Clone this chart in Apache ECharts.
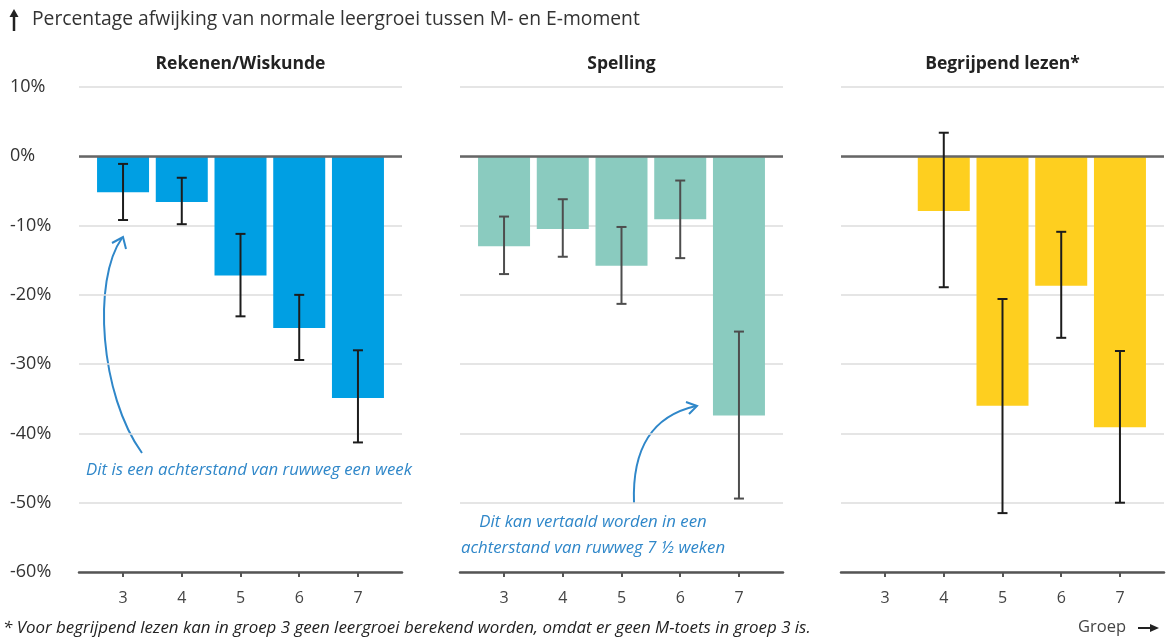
<!DOCTYPE html>
<html>
<head>
<meta charset="utf-8">
<script src="https://cdn.jsdelivr.net/npm/echarts@6/dist/echarts.min.js"></script>
<style>
  html, body { margin: 0; padding: 0; background: #fff; }
  #chart { width: 1166px; height: 639px; }
</style>
</head>
<body>
<div id="chart"></div>
<script>
// Groep 3 t/m 7, afwijking in procenten (balk) met foutmarge (laag/hoog)
const groups = [3, 4, 5, 6, 7];
const yTicks = [10, 0, -10, -20, -30, -40, -50, -60];

const panelTitles = ['Rekenen/Wiskunde', 'Spelling', 'Begrijpend lezen*'];

const rekenen = [-5.2, -6.6, -17.2, -24.8, -34.9];
const rekenenLow = [-9.2, -9.8, -23.1, -29.4, -41.3];
const rekenenHigh = [-1.1, -3.1, -11.2, -20.0, -28.0];

const spelling = [-13.0, -10.5, -15.8, -9.1, -37.4];
const spellingLow = [-17.0, -14.5, -21.3, -14.7, -49.4];
const spellingHigh = [-8.7, -6.2, -10.2, -3.5, -25.3];

// geen waarde voor groep 3
const lezen = [null, -7.9, -36.0, -18.7, -39.1];
const lezenLow = [null, -18.9, -51.5, -26.2, -50.0];
const lezenHigh = [null, 3.4, -20.6, -10.9, -28.1];

const FONT = '"Open Sans", "Noto Sans", sans-serif';
const barColors = ['#009fe3', '#8acbbf', '#fecf1f'];
const errColors = ['#1c1c1c', '#4d4d4d', '#1c1c1c'];
const noteColor = '#2f87c9';

const chart = echarts.init(document.getElementById('chart'));

const gridLefts = [79, 460, 841];
const grids = gridLefts.map(l => ({ left: l, width: 323, top: 87, height: 485 }));

const xAxes = grids.map((g, i) => ({
  type: 'value',
  gridIndex: i,
  min: 2.25,
  max: 7.75,
  splitLine: { show: false },
  axisLine: { onZero: false, lineStyle: { color: '#555', width: 2.5 } },
  axisTick: { customValues: groups, length: 5, lineStyle: { color: '#555', width: 2 } },
  axisLabel: {
    customValues: groups,
    margin: 18,
    color: '#444',
    fontSize: 16,
    fontFamily: FONT
  }
}));

const yAxes = grids.map((g, i) => ({
  type: 'value',
  gridIndex: i,
  min: yTicks[yTicks.length - 1],
  max: yTicks[0],
  interval: 10,
  axisLine: { show: false },
  axisTick: { show: false },
  splitLine: { lineStyle: { color: '#dcdcdc', width: 1.5 } },
  axisLabel: {
    show: i === 0,
    align: 'left',
    margin: 69,
    color: '#333',
    fontSize: 18,
    fontFamily: FONT,
    formatter: v => v + '%'
  }
}));

function pairs(vals) {
  return groups.map((g, k) => [g, vals[k]]).filter(d => d[1] != null);
}
function triples(low, high) {
  return groups.map((g, k) => [g, low[k], high[k]]).filter(d => d[1] != null);
}

function errorRender(color) {
  return function (params, api) {
    const x = api.value(0);
    const lo = api.coord([x, api.value(1)]);
    const hi = api.coord([x, api.value(2)]);
    const cap = 5;
    const st = { stroke: color, lineWidth: 2 };
    return {
      type: 'group',
      children: [
        { type: 'line', shape: { x1: lo[0], y1: lo[1], x2: hi[0], y2: hi[1] }, style: st },
        { type: 'line', shape: { x1: lo[0] - cap, y1: lo[1], x2: lo[0] + cap, y2: lo[1] }, style: st },
        { type: 'line', shape: { x1: hi[0] - cap, y1: hi[1], x2: hi[0] + cap, y2: hi[1] }, style: st }
      ]
    };
  };
}

const barSets = [
  [rekenen, rekenenLow, rekenenHigh],
  [spelling, spellingLow, spellingHigh],
  [lezen, lezenLow, lezenHigh]
];

const series = [];
barSets.forEach(([vals, low, high], i) => {
  series.push({
    type: 'bar',
    xAxisIndex: i,
    yAxisIndex: i,
    barWidth: 52,
    data: pairs(vals),
    itemStyle: { color: barColors[i] },
    silent: true,
    markLine: {
      silent: true,
      symbol: 'none',
      label: { show: false },
      lineStyle: { color: '#666', width: 2.5, type: 'solid' },
      data: [{ yAxis: 0 }],
      z: 5
    }
  });
  series.push({
    type: 'custom',
    xAxisIndex: i,
    yAxisIndex: i,
    renderItem: errorRender(errColors[i]),
    data: triples(low, high),
    z: 10,
    silent: true
  });
});

const titleGraphics = panelTitles.map((t, i) => ({
  type: 'text',
  x: gridLefts[i] + 161.5,
  y: 64,
  style: {
    text: t,
    font: 'bold 17.5px ' + FONT,
    fill: '#222',
    textAlign: 'center',
    textVerticalAlign: 'middle'
  }
}));

const noteFont = 'italic 16.8px ' + FONT;

const option = {
  animation: false,
  grid: grids,
  xAxis: xAxes,
  yAxis: yAxes,
  series: series,
  graphic: [
    // pijl omhoog + as-titel
    { type: 'line', shape: { x1: 14, y1: 14, x2: 14, y2: 31 }, style: { stroke: '#222', lineWidth: 2.5 } },
    { type: 'polygon', shape: { points: [[9.5, 17], [14, 9], [18.5, 17]] }, style: { fill: '#222' } },
    {
      type: 'text', x: 32, y: 20,
      style: {
        text: 'Percentage afwijking van normale leergroei tussen M- en E-moment',
        font: '19.3px ' + FONT, fill: '#333', textVerticalAlign: 'middle'
      }
    },
    ...titleGraphics,
    // annotatie rekenen
    {
      type: 'bezierCurve',
      shape: { x1: 142, y1: 453, cpx1: 100, cpy1: 395, cpx2: 92, cpy2: 280, x2: 122, y2: 238 },
      style: { stroke: noteColor, lineWidth: 2, fill: null }
    },
    {
      type: 'polyline',
      shape: { points: [[112, 243], [123, 237], [126, 249]] },
      style: { stroke: noteColor, lineWidth: 2, fill: null }
    },
    {
      type: 'text', x: 249, y: 470,
      style: {
        text: 'Dit is een achterstand van ruwweg een week',
        font: noteFont, fill: noteColor,
        textAlign: 'center', textVerticalAlign: 'middle'
      }
    },
    // annotatie spelling
    {
      type: 'bezierCurve',
      shape: { x1: 634, y1: 503, cpx1: 632, cpy1: 448, cpx2: 652, cpy2: 416, x2: 696, y2: 406 },
      style: { stroke: noteColor, lineWidth: 2, fill: null }
    },
    {
      type: 'polyline',
      shape: { points: [[686, 402], [697, 406], [689, 414]] },
      style: { stroke: noteColor, lineWidth: 2, fill: null }
    },
    {
      type: 'text', x: 593, y: 522,
      style: {
        text: 'Dit kan vertaald worden in een',
        font: noteFont, fill: noteColor,
        textAlign: 'center', textVerticalAlign: 'middle'
      }
    },
    {
      type: 'text', x: 593, y: 548,
      style: {
        text: 'achterstand van ruwweg 7 \u00bd weken',
        font: noteFont, fill: noteColor,
        textAlign: 'center', textVerticalAlign: 'middle'
      }
    },
    // voetnoot
    {
      type: 'text', x: 3, y: 628,
      style: {
        text: '* Voor begrijpend lezen kan in groep 3 geen leergroei berekend worden, omdat er geen M-toets in groep 3 is.',
        font: 'italic 16.9px ' + FONT, fill: '#222', textVerticalAlign: 'middle'
      }
    },
    // x-as titel
    {
      type: 'text', x: 1126, y: 627,
      style: {
        text: 'Groep', font: '16.5px ' + FONT, fill: '#444',
        textAlign: 'right', textVerticalAlign: 'middle'
      }
    },
    { type: 'line', shape: { x1: 1138, y1: 628, x2: 1152, y2: 628 }, style: { stroke: '#222', lineWidth: 2 } },
    { type: 'polygon', shape: { points: [[1150, 624], [1159, 628], [1150, 632]] }, style: { fill: '#222' } }
  ]
};

chart.setOption(option);
</script>
</body>
</html>
